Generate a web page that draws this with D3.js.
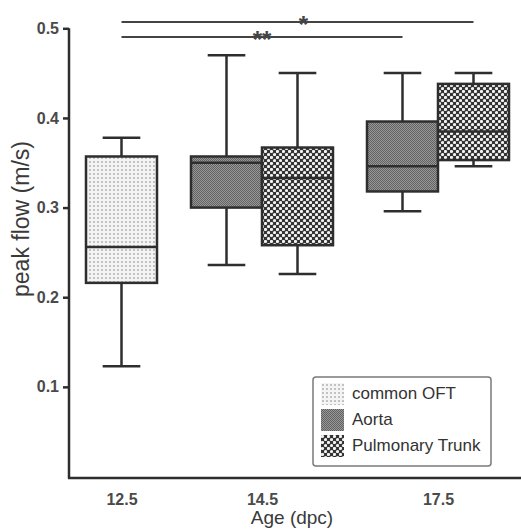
<!DOCTYPE html>
<html>
<head>
<meta charset="utf-8">
<script src="https://cdn.jsdelivr.net/npm/d3@7"></script>
<style>
  html, body { margin: 0; padding: 0; background: #fff; }
  svg { display: block; font-family: "Liberation Sans", Arial, sans-serif; }
</style>
</head>
<body>
<svg id="chart" width="521" height="530"></svg>
<script>
// ---- data ----
const ages = ["12.5", "14.5", "17.5"];
const series = ["common OFT", "Aorta", "Pulmonary Trunk"];
const boxAge = ["12.5", "14.5", "14.5", "17.5", "17.5"];
const boxSeries = ["common OFT", "Aorta", "Pulmonary Trunk", "Aorta", "Pulmonary Trunk"];
const mins    = [0.123, 0.236, 0.226, 0.296, 0.346];
const q1s     = [0.216, 0.300, 0.258, 0.318, 0.353];
const medians = [0.256, 0.350, 0.333, 0.346, 0.385];
const q3s     = [0.357, 0.357, 0.367, 0.396, 0.438];
const maxs    = [0.378, 0.470, 0.450, 0.450, 0.450];
const yTicks = [0.1, 0.2, 0.3, 0.4, 0.5];
const sigLabels = ["*", "**"];
const sigFrom = [0, 0];
const sigTo = [4, 3];

// ---- layout ----
const svg = d3.select("#chart");
const ink = "#2e2e2e";
const gapRatio = 34 / 71;
const nBoxes = boxAge.length;
const nGroupGaps = ages.length - 1;

const y = d3.scaleLinear().domain([0, 0.5]).range([476.5, 28.3]);
const slot = d3.scaleLinear().domain([0, nBoxes + nGroupGaps * gapRatio]).range([86, 509]);
const boxStart = boxAge.map((a, i) => i + ages.indexOf(a) * gapRatio);
const bw = slot(1) - slot(0);
const cx = boxStart.map(s => slot(s + 0.5));
const ageCenter = ages.map(a => d3.mean(cx.filter((c, i) => boxAge[i] === a)));
const x = d3.scaleOrdinal().domain(ages).range(ageCenter);

// ---- patterns ----
const defs = svg.append("defs");
const pOFT = defs.append("pattern").attr("id", "p-oft").attr("patternUnits", "userSpaceOnUse")
  .attr("width", 4).attr("height", 4);
pOFT.append("rect").attr("width", 4).attr("height", 4).attr("fill", "#f4f4f4");
pOFT.append("rect").attr("x", 1).attr("y", 1).attr("width", 2).attr("height", 2).attr("fill", "#c2c2c2");

const pAo = defs.append("pattern").attr("id", "p-ao").attr("patternUnits", "userSpaceOnUse")
  .attr("width", 2).attr("height", 2);
pAo.append("rect").attr("width", 2).attr("height", 2).attr("fill", "#989898");
pAo.append("rect").attr("width", 1).attr("height", 1).attr("fill", "#626262");
pAo.append("rect").attr("x", 1).attr("y", 1).attr("width", 1).attr("height", 1).attr("fill", "#626262");

const pPT = defs.append("pattern").attr("id", "p-pt").attr("patternUnits", "userSpaceOnUse")
  .attr("width", 6).attr("height", 6);
pPT.append("rect").attr("width", 6).attr("height", 6).attr("fill", "#333");
pPT.append("circle").attr("cx", 1.5).attr("cy", 1.5).attr("r", 1.6).attr("fill", "#f2f2f2");
pPT.append("circle").attr("cx", 4.5).attr("cy", 4.5).attr("r", 1.6).attr("fill", "#f2f2f2");

const fillFor = d3.scaleOrdinal().domain(series).range(["url(#p-oft)", "url(#p-ao)", "url(#p-pt)"]);

// ---- axes ----
const yAxis = svg.append("g").attr("transform", "translate(69,0)")
  .call(d3.axisLeft(y).tickValues(yTicks).tickSize(6).tickSizeOuter(0).tickPadding(4).tickFormat(d3.format(".1f")));
yAxis.select(".domain").attr("stroke", ink).attr("stroke-width", 2.5)
  .attr("d", `M0,${y(0) + 2}V${y(0.5)}`);
yAxis.selectAll(".tick line").attr("stroke", ink).attr("stroke-width", 2.5);
yAxis.selectAll(".tick text").attr("fill", "#4a4a4a").attr("font-size", 16).attr("font-weight", "bold")
  .attr("font-family", "'Liberation Sans', Arial, sans-serif");

svg.append("line").attr("x1", 68).attr("x2", 521).attr("y1", y(0) + 1.5).attr("y2", y(0) + 1.5)
  .attr("stroke", ink).attr("stroke-width", 2.5);

const xAxis = svg.append("g").attr("transform", `translate(0,${y(0) + 2})`)
  .call(d3.axisBottom(x).tickSize(0).tickPadding(15));
xAxis.select(".domain").remove();
xAxis.selectAll(".tick text").attr("fill", "#4a4a4a").attr("font-size", 16).attr("font-weight", "bold")
  .attr("font-family", "'Liberation Sans', Arial, sans-serif");

svg.append("text").attr("x", 292).attr("y", 524).attr("text-anchor", "middle")
  .attr("font-size", 19).attr("fill", "#3a3a3a").text("Age (dpc)");

svg.append("text").attr("transform", "translate(29,219) rotate(-90)").attr("text-anchor", "middle")
  .attr("font-size", 23).attr("fill", "#3a3a3a").text("peak flow (m/s)");

// ---- boxes ----
const boxes = svg.append("g").selectAll("g").data(d3.range(nBoxes)).join("g");
const capW = bw * 0.53;
boxes.append("line").attr("x1", i => cx[i]).attr("x2", i => cx[i])
  .attr("y1", i => y(maxs[i])).attr("y2", i => y(q3s[i])).attr("stroke", ink).attr("stroke-width", 2.5);
boxes.append("line").attr("x1", i => cx[i]).attr("x2", i => cx[i])
  .attr("y1", i => y(q1s[i])).attr("y2", i => y(mins[i])).attr("stroke", ink).attr("stroke-width", 2.5);
boxes.append("line").attr("x1", i => cx[i] - capW / 2).attr("x2", i => cx[i] + capW / 2)
  .attr("y1", i => y(maxs[i])).attr("y2", i => y(maxs[i])).attr("stroke", ink).attr("stroke-width", 2.5);
boxes.append("line").attr("x1", i => cx[i] - capW / 2).attr("x2", i => cx[i] + capW / 2)
  .attr("y1", i => y(mins[i])).attr("y2", i => y(mins[i])).attr("stroke", ink).attr("stroke-width", 2.5);
boxes.append("rect").attr("x", i => slot(boxStart[i])).attr("width", bw)
  .attr("y", i => y(q3s[i])).attr("height", i => y(q1s[i]) - y(q3s[i]))
  .attr("fill", i => fillFor(boxSeries[i])).attr("stroke", ink).attr("stroke-width", 2.5);
boxes.append("line").attr("x1", i => slot(boxStart[i])).attr("x2", i => slot(boxStart[i]) + bw)
  .attr("y1", i => y(medians[i])).attr("y2", i => y(medians[i])).attr("stroke", ink).attr("stroke-width", 2.5);

// ---- significance bars ----
const sigY = [22, 37];
const sig = svg.append("g").selectAll("g").data(d3.range(sigLabels.length)).join("g");
sig.append("line").attr("x1", i => cx[sigFrom[i]]).attr("x2", i => cx[sigTo[i]])
  .attr("y1", i => sigY[i]).attr("y2", i => sigY[i]).attr("stroke", "#444").attr("stroke-width", 2);
sig.append("text").attr("x", i => (cx[sigFrom[i]] + cx[sigTo[i]]) / 2 + (i === 0 ? 6 : 0))
  .attr("y", i => sigY[i] + 11).attr("text-anchor", "middle").attr("font-size", 24)
  .attr("font-weight", "bold").attr("fill", "#444").text(i => sigLabels[i]);

// ---- legend ----
const lg = svg.append("g");
lg.append("rect").attr("x", 313).attr("y", 377).attr("width", 178).attr("height", 89)
  .attr("rx", 3).attr("fill", "#fff").attr("stroke", "#7a7a7a").attr("stroke-width", 1.5);
const rows = lg.selectAll("g").data(series).join("g")
  .attr("transform", (d, i) => `translate(321,${383 + i * 26})`);
rows.append("rect").attr("width", 23).attr("height", 22).attr("fill", d => fillFor(d));
rows.append("text").attr("x", 31).attr("y", 16).attr("font-size", 17).attr("fill", "#333").text(d => d);
</script>
</body>
</html>
